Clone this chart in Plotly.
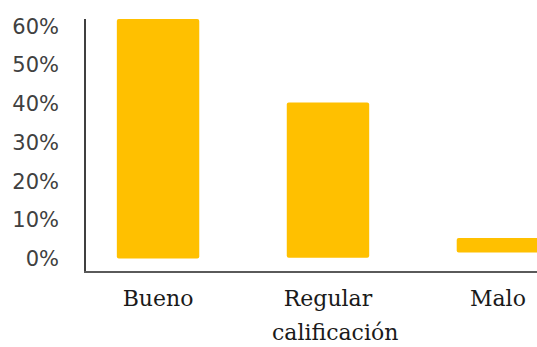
import plotly.graph_objects as go

categories = ["Bueno", "Regular", "Malo"]
bar_tops = [61.9, 40.3, 5.3]
bar_bottoms = [0.0, 0.2, 1.6]
y_tick_values = [0, 10, 20, 30, 40, 50, 60]
y_tick_labels = ["0%", "10%", "20%", "30%", "40%", "50%", "60%"]
x_title = "calificación"

heights = [t - b for t, b in zip(bar_tops, bar_bottoms)]
serif = "DejaVu Serif"

fig = go.Figure(go.Bar(
    x=categories, y=heights, base=bar_bottoms,
    marker=dict(color="#FFC000", line=dict(width=0), cornerradius=2),
    width=0.485,
))

fig.update_layout(
    width=537, height=347,
    margin=dict(l=86, r=0, t=19, b=76, autoexpand=False),
    paper_bgcolor="white", plot_bgcolor="white",
    showlegend=False,
    bargap=0.5,
)
fig.add_annotation(
    text=x_title, xref="paper", yref="paper", x=0.552, y=-0.245,
    xanchor="center", yanchor="middle", showarrow=False,
    font=dict(family=serif, size=22, color="#1a1a1a"),
)
fig.update_xaxes(
    range=[-0.424, 2.23], automargin=False,
    showline=True, linecolor="#5a5a5a", linewidth=2,
    showgrid=False, zeroline=False,
    ticks="outside", ticklen=7, tickcolor="rgba(0,0,0,0)",
    tickfont=dict(family=serif, size=22, color="#1a1a1a"),
)
fig.update_yaxes(
    range=[-3.2, 61.9], automargin=False,
    showline=True, linecolor="#404040", linewidth=1.5,
    showgrid=False, zeroline=False,
    tickvals=y_tick_values, ticktext=y_tick_labels,
    ticks="", ticklabelstandoff=21,
    tickfont=dict(family="DejaVu Sans", size=21, color="#404040"),
)

fig.write_html("out.html")
